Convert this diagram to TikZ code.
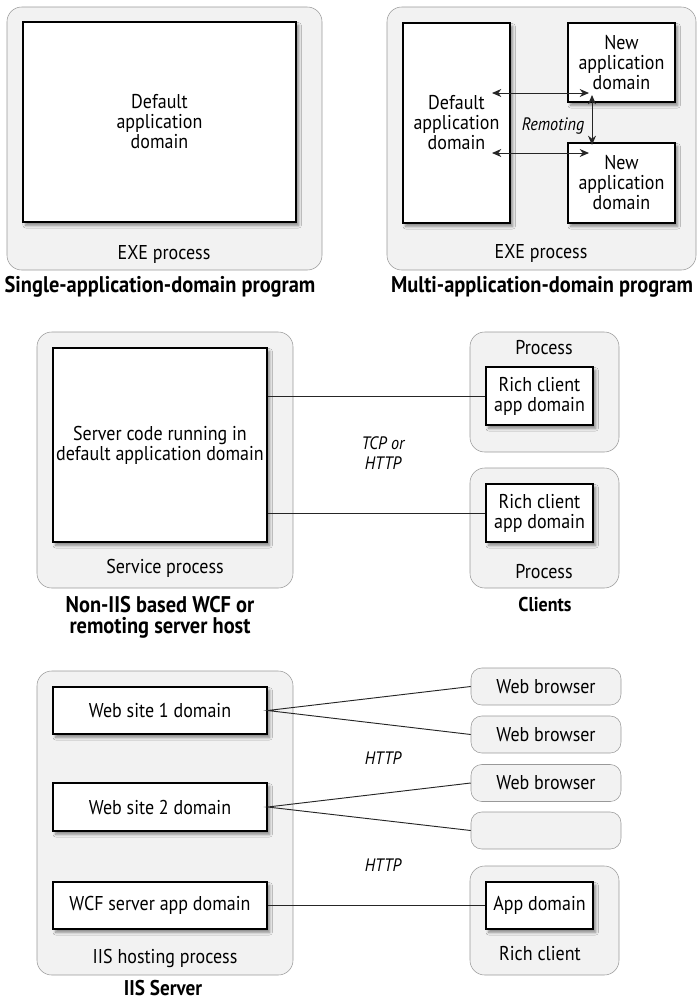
\documentclass[tikz,border=0pt]{standalone}
\usepackage{fontspec}
\setmainfont{PT Sans}[FakeStretch=0.9]
\usetikzlibrary{arrows.meta, shadows.blur}

\begin{document}
\begin{tikzpicture}[x=0.75pt, y=-0.75pt,
    font=\fontsize{15}{15}\selectfont,
    sz/.style 2 args={minimum width=#1*0.75pt, minimum height=#2*0.75pt},
    proc/.style={draw=gray!80, fill=gray!10, rounded corners=11pt, inner sep=0pt},
    brw/.style={proc, rounded corners=8pt, sz={150}{37}},
    dom/.style={draw=black, fill=white, line width=0.9pt, inner sep=0pt, align=center,
        blur shadow={shadow xshift=2pt, shadow yshift=-2.5pt, shadow opacity=45, shadow blur steps=6}},
    lbl/.style={inner sep=0pt, align=center},
    ttl/.style={lbl, font=\fontsize{17}{15.8}\selectfont\bfseries},
    itl/.style={lbl, font=\fontsize{13.5}{15.5}\selectfont\itshape},
    wire/.style={draw=black!85, line width=0.7pt},
    dbl/.style={wire, {Stealth[length=7pt,width=6pt]}-{Stealth[length=7pt,width=6pt]}}
]
\useasboundingbox (0,0) rectangle (697,1001);

% single application domain
\node[proc, sz={315}{263}] (exeA) at (164.5,138.5) {};
\node[dom, sz={273}{200}] (dfltA) at (159.5,122) {Default\\application\\domain};
\node[lbl] (exeAlbl) at (164,254) {EXE process};
\node[ttl] (ttlA) at (160,287) {Single-application-domain program};

% multi application domain
\node[proc, sz={309}{263}] (exeB) at (541.5,138.5) {};
\node[dom, sz={107}{200}] (dfltB) at (456.5,123) {Default\\application\\domain};
\node[dom, sz={107}{79}] (newB1) at (621.5,62.5) {New\\application\\domain};
\node[dom, sz={107}{80}] (newB2) at (621.5,183) {New\\application\\domain};
\coordinate (dA) at (492,93);
\coordinate (nA) at (589,93);
\coordinate (dB) at (492,153);
\coordinate (nB) at (589,153);
\coordinate (vA) at (592,95);
\coordinate (vB) at (592,145);
\draw[dbl] (dA) -- (nA);
\draw[dbl] (dB) -- (nB);
\draw[dbl] (vA) -- (vB);
\node[itl] (remot) at (553,126) {Remoting};
\node[lbl] (exeBlbl) at (541,253) {EXE process};
\node[ttl] (ttlB) at (542,287) {Multi-application-domain program};

% non-IIS server host
\node[proc, sz={256}{256}] (svcP) at (165,460) {};
\node[dom, sz={214}{194}] (srv) at (160,445) {Server code running in\\default application domain};
\node[lbl] (svcLbl) at (165,568) {Service process};
\node[ttl] (svcTtl) at (160,617) {Non-IIS based WCF or\\remoting server host};

\node[proc, sz={149}{120}] (cp1) at (544.5,392) {};
\node[lbl] (cp1Lbl) at (544,348) {Process};
\node[dom, sz={107}{58}] (rc1) at (539.5,396) {Rich client\\app domain};
\node[proc, sz={149}{120}] (cp2) at (544.5,528) {};
\node[dom, sz={107}{58}] (rc2) at (539.5,513) {Rich client\\app domain};
\node[lbl] (cp2Lbl) at (544,572) {Process};
\node[lbl, font=\fontsize{15}{15}\selectfont\bfseries] (cliTtl) at (545,604) {Clients};

\draw[wire] (rc1.west) -- (rc1.west -| srv.east);
\draw[wire] (rc2.west) -- (rc2.west -| srv.east);
\node[itl] (tcp) at (383,453) {TCP or\\HTTP};

% IIS server
\node[proc, sz={256}{304}] (iisP) at (165,823) {};
\node[dom, sz={214}{47}] (ws1) at (160,710.5) {Web site 1 domain};
\node[dom, sz={214}{48}] (ws2) at (160,807) {Web site 2 domain};
\node[dom, sz={214}{47}] (wcf) at (160,905.5) {WCF server app domain};
\node[lbl] (iisLbl) at (165,958) {IIS hosting process};
\node[ttl, font=\fontsize{16}{15.8}\selectfont\bfseries] (iisTtl) at (163,988) {IIS Server};

\foreach \i/\y/\t in {1/686.5/Web browser, 2/734.5/Web browser, 3/783/Web browser, 4/830.5/{}}
    \node[brw] (wb\i) at (546,\y) {\t};

\node[proc, sz={149}{109}] (rcP) at (544.5,920.5) {};
\node[dom, sz={107}{47}] (appd) at (539.5,905.5) {App domain};
\node[lbl] (rcLbl) at (540,954) {Rich client};

\draw[wire] (wb1.west) -- (ws1.east) -- (wb2.west);
\draw[wire] (wb3.west) -- (ws2.east) -- (wb4.west);
\draw[wire] (wcf.east) -- (appd.west);
\node[itl] (http1) at (383,758) {HTTP};
\node[itl] (http2) at (383,865) {HTTP};
\end{tikzpicture}
\end{document}
